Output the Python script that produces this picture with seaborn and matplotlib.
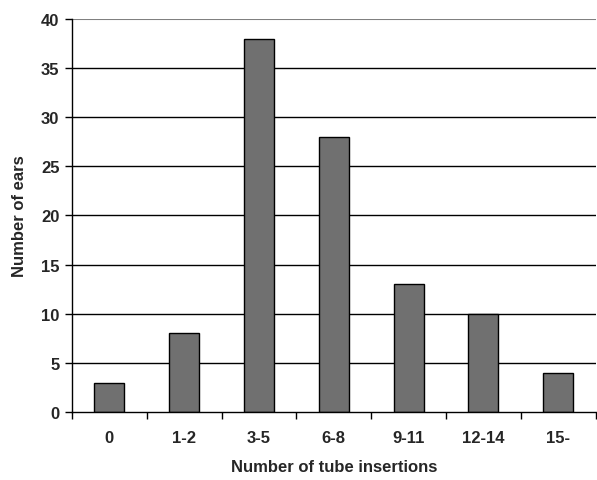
import matplotlib.pyplot as plt
import pandas as pd
import seaborn as sns
from matplotlib.ticker import FixedLocator

# Distribution of tube insertions per ear
categories = ["0", "1-2", "3-5", "6-8", "9-11", "12-14", "15-"]
ear_counts = [3, 8, 38, 28, 13, 10, 4]

BAR_COLOR = "#707070"

sns.set_theme(style="white")
plt.rcParams["font.family"] = ["Liberation Sans", "DejaVu Sans"]
plt.rcParams["font.weight"] = "bold"

df = pd.DataFrame({"insertions": categories, "ears": ear_counts})

fig = plt.figure(figsize=(5.97, 4.81), dpi=100)
ax = fig.add_axes([0.1206, 0.1414, 0.877, 0.817])

ax.set_axisbelow(True)
for y in range(5, 40, 5):
    ax.axhline(y, color="black", linewidth=1.0, zorder=0)
ax.axhline(40, color="#808080", linewidth=1.5, zorder=0)

sns.barplot(
    data=df,
    x="insertions",
    y="ears",
    color=BAR_COLOR,
    saturation=1,
    width=0.4,
    edgecolor="black",
    linewidth=1.0,
    ax=ax,
    zorder=2,
)

ax.set_xlim(-0.5, len(categories) - 0.5)
ax.set_ylim(0, 40)
ax.set_yticks(range(0, 41, 5))

ax.tick_params(axis="x", which="major", length=0, pad=13, labelsize=12)
ax.xaxis.set_minor_locator(FixedLocator([i - 0.5 for i in range(len(categories) + 1)]))
ax.tick_params(axis="x", which="minor", bottom=True, length=5, width=1, color="black", direction="out")
ax.tick_params(axis="y", left=True, length=5, width=1, color="black", direction="out", labelsize=12, pad=4)

for label in ax.get_xticklabels() + ax.get_yticklabels():
    label.set_fontweight("bold")

ax.set_xlabel("Number of tube insertions", fontsize=12, fontweight="bold", labelpad=10)
ax.set_ylabel("Number of ears", fontsize=12, fontweight="bold", labelpad=10)

for side in ["top", "right"]:
    ax.spines[side].set_visible(False)
for side in ["left", "bottom"]:
    ax.spines[side].set_color("black")
    ax.spines[side].set_linewidth(1.0)

fig.savefig("out.png", dpi=100)
